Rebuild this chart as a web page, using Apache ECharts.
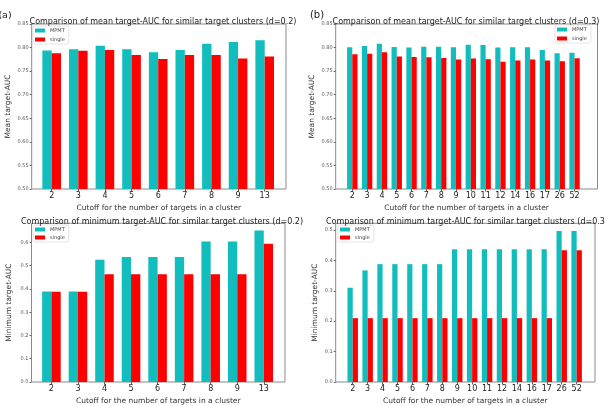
<!DOCTYPE html>
<html>
<head>
<meta charset="utf-8">
<script src="https://cdn.jsdelivr.net/npm/echarts@6/dist/echarts.min.js"></script>
<style>
  html, body { margin: 0; padding: 0; background: #fff; }
  #main { width: 605px; height: 406px; }
</style>
</head>
<body>
<div id="main"></div>
<script>
// cutoffs (x categories)
var catsA = ['2', '3', '4', '5', '6', '7', '8', '9', '13'];
var catsB = ['2', '3', '4', '5', '6', '7', '8', '9', '10', '11', '12', '14', '16', '17', '26', '52'];

// mean target-AUC, d=0.2 / d=0.3
var meanMpmtA = [0.794, 0.7965, 0.804, 0.7965, 0.790, 0.795, 0.808, 0.812, 0.8155];
var meanSingleA = [0.788, 0.793, 0.795, 0.7845, 0.776, 0.784, 0.784, 0.777, 0.781];
var meanMpmtB = [0.8007, 0.8035, 0.808, 0.801, 0.800, 0.802, 0.802, 0.8007, 0.806, 0.8056, 0.800, 0.8007, 0.8007, 0.795, 0.788, 0.789];
var meanSingleB = [0.786, 0.787, 0.790, 0.781, 0.780, 0.7796, 0.778, 0.7747, 0.777, 0.7754, 0.770, 0.7726, 0.7747, 0.7726, 0.771, 0.7775];

// minimum target-AUC, d=0.2 / d=0.3
var minMpmtA = [0.389, 0.389, 0.526, 0.538, 0.538, 0.538, 0.604, 0.604, 0.651];
var minSingleA = [0.388, 0.388, 0.463, 0.463, 0.463, 0.463, 0.463, 0.463, 0.5945];
var minMpmtB = [0.310, 0.367, 0.3876, 0.3876, 0.3876, 0.3876, 0.3876, 0.437, 0.437, 0.437, 0.437, 0.437, 0.437, 0.437, 0.497, 0.497];
var minSingleB = [0.21, 0.21, 0.21, 0.21, 0.21, 0.21, 0.21, 0.21, 0.21, 0.21, 0.21, 0.21, 0.21, 0.21, 0.433, 0.433];

// y tick labels
var yTicksMean = [0.50, 0.55, 0.60, 0.65, 0.70, 0.75, 0.80, 0.85];
var yTicksMinA = [0.0, 0.1, 0.2, 0.3, 0.4, 0.5, 0.6];
var yTicksMinB = [0.0, 0.1, 0.2, 0.3, 0.4, 0.5];

var TEAL = '#12BDBD';
var RED = '#FF0000';
var FONT = 'DejaVu Sans';
var XNAME = 'Cutoff for the number of targets in a cluster';

function makeGrid(left, top, width, height) {
  return {
    left: left, top: top, width: width, height: height,
    show: true, borderColor: '#8a8a8a', borderWidth: 1, containLabel: false
  };
}

function makeXAxis(idx, cats, min, max, nameGap) {
  var pos = cats.map(function (c, i) { return i; });
  return {
    type: 'value', gridIndex: idx, min: min, max: max,
    name: XNAME, nameLocation: 'middle', nameGap: nameGap,
    nameTextStyle: { fontSize: 7.5, color: '#333', fontFamily: FONT },
    splitLine: { show: false },
    axisLine: { show: false, onZero: false },
    axisTick: { show: true, length: 2.5, customValues: pos, lineStyle: { color: '#666' } },
    axisLabel: {
      customValues: pos, fontSize: 8, color: '#222', fontFamily: FONT, margin: 3,
      formatter: function (v) { return cats[Math.round(v)]; }
    }
  };
}

function makeYAxis(idx, name, min, max, ticks, digits, nameGap) {
  return {
    type: 'value', gridIndex: idx, min: min, max: max,
    name: name, nameLocation: 'middle', nameGap: nameGap,
    nameTextStyle: { fontSize: 7.5, color: '#333', fontFamily: FONT },
    splitLine: { show: false },
    axisLine: { show: false, onZero: false },
    axisTick: { show: true, length: 2, customValues: ticks, lineStyle: { color: '#666' } },
    axisLabel: {
      customValues: ticks, fontSize: 5, color: '#555', fontFamily: FONT, margin: 3,
      formatter: function (v) { return v.toFixed(digits); }
    }
  };
}

function makeBar(name, idx, vals, color) {
  return {
    name: name, type: 'bar', xAxisIndex: idx, yAxisIndex: idx,
    barWidth: '35%', barGap: '0%',
    itemStyle: { color: color },
    data: vals.map(function (v, i) { return [i, v]; })
  };
}

function makeLegend(left, top, gap) {
  return {
    data: ['MPMT', 'single'], orient: 'vertical', left: left, top: top,
    itemWidth: 10, itemHeight: 4, itemGap: gap,
    padding: [2, 4, 2, 2],
    borderColor: '#ddd', borderWidth: 0.8, borderRadius: 2,
    icon: 'rect',
    textStyle: { fontSize: 5, color: '#444', fontFamily: FONT, lineHeight: 5 }
  };
}

function makeTitle(text, x, y, size) {
  return {
    text: text, left: x, top: y, textAlign: 'center',
    textStyle: { fontSize: size, fontWeight: 'normal', color: '#222', fontFamily: FONT }
  };
}

var chart = echarts.init(document.getElementById('main'), null, { renderer: 'canvas', width: 605, height: 406 });

var option = {
  animation: false,
  backgroundColor: '#fff',
  title: [
    makeTitle('(a)', 0, 6, 9.5),
    makeTitle('(b)', 312, 5, 10),
    makeTitle('Comparison of mean target-AUC for similar target clusters (d=0.2)', 158, 13, 8),
    makeTitle('Comparison of mean target-AUC for similar target clusters (d=0.3)', 461, 13, 8),
    makeTitle('Comparison of minimum target-AUC for similar target clusters (d=0.2)', 157, 213, 8),
    makeTitle('Comparison of minimum target-AUC for similar target clusters (d=0.3)', 462, 213, 8)
  ],
  legend: [
    makeLegend(33, 26, 4),
    makeLegend(555, 25, 4),
    makeLegend(33, 225, 3),
    makeLegend(338, 225, 3)
  ],
  grid: [
    makeGrid(31.7, 24, 254.3, 165),
    makeGrid(335.7, 24, 261.8, 165),
    makeGrid(31.5, 223.3, 253.5, 165.7),
    makeGrid(335.7, 223.3, 259.3, 165)
  ],
  xAxis: [
    makeXAxis(0, catsA, -0.75, 8.8, 15),
    makeXAxis(1, catsB, -1.12, 16.55, 15),
    makeXAxis(2, catsA, -0.75, 8.8, 15),
    makeXAxis(3, catsB, -1.14, 16.23, 15)
  ],
  yAxis: [
    makeYAxis(0, 'Mean target-AUC', 0.5, 0.85, yTicksMean, 2, 20),
    makeYAxis(1, 'Mean target-AUC', 0.5, 0.85, yTicksMean, 2, 20),
    makeYAxis(2, 'Minimum target-AUC', 0, 0.6825, yTicksMinA, 1, 18),
    makeYAxis(3, 'Minimum target-AUC', 0, 0.522, yTicksMinB, 1, 17)
  ],
  series: [
    makeBar('MPMT', 0, meanMpmtA, TEAL),
    makeBar('single', 0, meanSingleA, RED),
    makeBar('MPMT', 1, meanMpmtB, TEAL),
    makeBar('single', 1, meanSingleB, RED),
    makeBar('MPMT', 2, minMpmtA, TEAL),
    makeBar('single', 2, minSingleA, RED),
    makeBar('MPMT', 3, minMpmtB, TEAL),
    makeBar('single', 3, minSingleB, RED)
  ]
};

chart.setOption(option);
</script>
</body>
</html>
